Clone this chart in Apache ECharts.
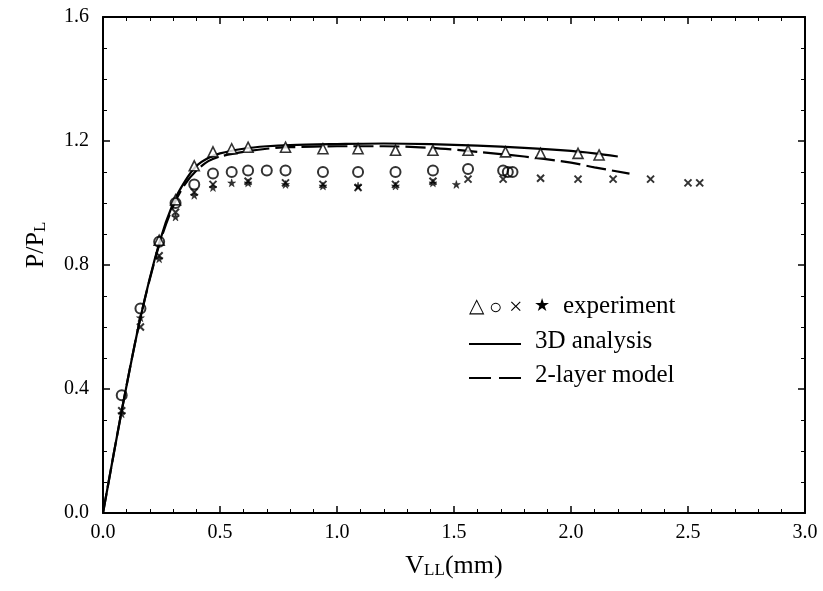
<!DOCTYPE html>
<html><head><meta charset="utf-8">
<script src="https://cdn.jsdelivr.net/npm/echarts@6/dist/echarts.min.js"></script>
<style>html,body{margin:0;padding:0;background:#fff}#c{width:823px;height:591px}</style>
</head><body><div id="c"></div>
<script>
// ---- data ----
const triangles = [[0.24,0.88],[0.31,1.01],[0.39,1.12],[0.47,1.165],[0.55,1.175],[0.62,1.18],[0.78,1.18],[0.94,1.175],[1.09,1.175],[1.25,1.17],[1.41,1.17],[1.56,1.17],[1.72,1.165],[1.87,1.16],[2.03,1.16],[2.12,1.155]];
const circles = [[0.08,0.38],[0.16,0.66],[0.24,0.875],[0.31,1.0],[0.39,1.06],[0.47,1.095],[0.55,1.10],[0.62,1.105],[0.70,1.105],[0.78,1.105],[0.94,1.10],[1.09,1.10],[1.25,1.10],[1.41,1.105],[1.56,1.11],[1.71,1.105],[1.73,1.10],[1.75,1.10]];
const crosses = [[0.08,0.33],[0.16,0.60],[0.24,0.83],[0.31,0.97],[0.39,1.035],[0.47,1.06],[0.62,1.07],[0.78,1.065],[0.94,1.06],[1.09,1.05],[1.25,1.06],[1.41,1.07],[1.56,1.077],[1.71,1.077],[1.87,1.08],[2.03,1.077],[2.18,1.077],[2.34,1.077],[2.50,1.065],[2.55,1.065]];
const stars = [[0.08,0.32],[0.16,0.63],[0.24,0.82],[0.31,0.955],[0.39,1.025],[0.47,1.05],[0.55,1.065],[0.62,1.065],[0.78,1.06],[0.94,1.055],[1.09,1.055],[1.25,1.055],[1.41,1.065],[1.51,1.06]];
const analysis3D = [[0,0],[0.08,0.33],[0.16,0.63],[0.24,0.87],[0.30,1.0],[0.35,1.07],[0.40,1.12],[0.45,1.145],[0.5,1.16],[0.6,1.175],[0.7,1.183],[0.8,1.187],[1.0,1.19],[1.2,1.192],[1.4,1.19],[1.6,1.185],[1.8,1.178],[2.0,1.168],[2.1,1.16],[2.2,1.15]];
const twoLayer = [[0,0],[0.08,0.33],[0.16,0.63],[0.24,0.865],[0.30,0.99],[0.35,1.06],[0.40,1.105],[0.45,1.135],[0.5,1.15],[0.6,1.165],[0.7,1.175],[0.8,1.18],[1.0,1.183],[1.2,1.183],[1.4,1.178],[1.6,1.165],[1.8,1.15],[2.0,1.13],[2.1,1.115],[2.25,1.095]];
const xTicks = {min:0, max:3.0, interval:0.5};
const yTicks = {min:0, max:1.6, interval:0.4};

const FONT = '"Liberation Serif","Times New Roman",serif';
const chart = echarts.init(document.getElementById('c'), null, {renderer:'canvas'});
const crossPath = 'path://M0,0L10,10M10,0L0,10';
const starPath = 'path://M5,0L6.2,3.6L10,3.6L6.9,5.8L8.1,9.5L5,7.2L1.9,9.5L3.1,5.8L0,3.6L3.8,3.6Z';
const axisCommon = {
  axisLine:{show:true, onZero:false, lineStyle:{color:'#000', width:2}},
  axisTick:{show:true, inside:true, length:7, lineStyle:{color:'#000', width:1.5}},
  splitLine:{show:false}
};
const nameRich = {
  a:{fontSize:26, fontFamily:FONT, color:'#000', lineHeight:26, verticalAlign:'top'},
  s:{fontSize:17, fontFamily:FONT, color:'#000', lineHeight:26, verticalAlign:'bottom', padding:[8,0,0,0]}
};
chart.setOption({
  animation:false,
  backgroundColor:'#fff',
  grid:{left:103, right:18, top:17, bottom:78, containLabel:false},
  xAxis:[
    Object.assign({type:'value', position:'bottom', min:xTicks.min, max:xTicks.max, interval:xTicks.interval,
      axisLabel:{color:'#000', fontFamily:FONT, fontSize:20, margin:10, formatter:v=>v.toFixed(1)},
      name:'{a|V}{s|LL}{a|(mm)}', nameLocation:'middle', nameGap:40,
      nameTextStyle:{color:'#000', fontFamily:FONT, rich:nameRich}
    }, axisCommon, {minorTick:{show:true, splitNumber:5, length:4, lineStyle:{color:'#000', width:1}}}),
    Object.assign({type:'value', position:'top', min:xTicks.min, max:xTicks.max, interval:xTicks.interval, axisLabel:{show:false}}, axisCommon, {minorTick:{show:true, splitNumber:5, length:4, lineStyle:{color:'#000', width:1}}})
  ],
  yAxis:[
    Object.assign({type:'value', position:'left', min:yTicks.min, max:yTicks.max, interval:yTicks.interval,
      axisLabel:{color:'#000', fontFamily:FONT, fontSize:20, margin:14, formatter:v=>v.toFixed(1)},
      name:'{a|P/P}{s|L}', nameLocation:'middle', nameGap:54, nameRotate:90,
      nameTextStyle:{color:'#000', fontFamily:FONT, rich:nameRich, padding:[0,0,0,40]}
    }, axisCommon, {minorTick:{show:true, splitNumber:4, length:4, lineStyle:{color:'#000', width:1}}}),
    Object.assign({type:'value', position:'right', min:yTicks.min, max:yTicks.max, interval:yTicks.interval, axisLabel:{show:false}}, axisCommon, {minorTick:{show:true, splitNumber:4, length:4, lineStyle:{color:'#000', width:1}}})
  ],
  series:[
    {type:'line', data:analysis3D, smooth:0.3, showSymbol:false, lineStyle:{color:'#000', width:2.2}, z:2},
    {type:'line', data:twoLayer, smooth:0.3, showSymbol:false, lineStyle:{color:'#000', width:2.2, type:[20,6]}, z:2},
    {type:'scatter', data:triangles, symbol:'triangle', symbolSize:10, itemStyle:{color:'#fff', borderColor:'#000', borderWidth:1.6}, z:3},
    {type:'scatter', data:circles, symbol:'circle', symbolSize:10, itemStyle:{color:'rgba(255,255,255,0)', borderColor:'#000', borderWidth:2}, z:3},
    {type:'scatter', data:crosses, symbol:crossPath, symbolSize:7, itemStyle:{color:'rgba(0,0,0,0)', borderColor:'#000', borderWidth:2}, z:3},
    {type:'scatter', data:stars, symbol:starPath, symbolSize:8, itemStyle:{color:'#000', borderColor:'#000', borderWidth:0.5}, z:3}
  ],
  graphic:[
    {type:'text', left:469, top:297, style:{text:'△', font:'20px '+FONT, fill:'#000'}},
    {type:'text', left:489, top:297, style:{text:'○', font:'22px '+FONT, fill:'#000'}},
    {type:'text', left:509, top:296, style:{text:'×', font:'24px '+FONT, fill:'#000'}},
    {type:'text', left:534, top:297, style:{text:'★', font:'18px '+FONT, fill:'#000'}},
    {type:'text', left:563, top:294, style:{text:'experiment', font:'25px '+FONT, fill:'#000'}},
    {type:'line', shape:{x1:469, y1:344, x2:521, y2:344}, style:{stroke:'#000', lineWidth:2.2}},
    {type:'text', left:535, top:329, style:{text:'3D analysis', font:'25px '+FONT, fill:'#000'}},
    {type:'line', shape:{x1:469, y1:378, x2:521, y2:378}, style:{stroke:'#000', lineWidth:2.2, lineDash:[22,8]}},
    {type:'text', left:535, top:363, style:{text:'2-layer model', font:'25px '+FONT, fill:'#000'}}
  ]
});
</script></body></html>
